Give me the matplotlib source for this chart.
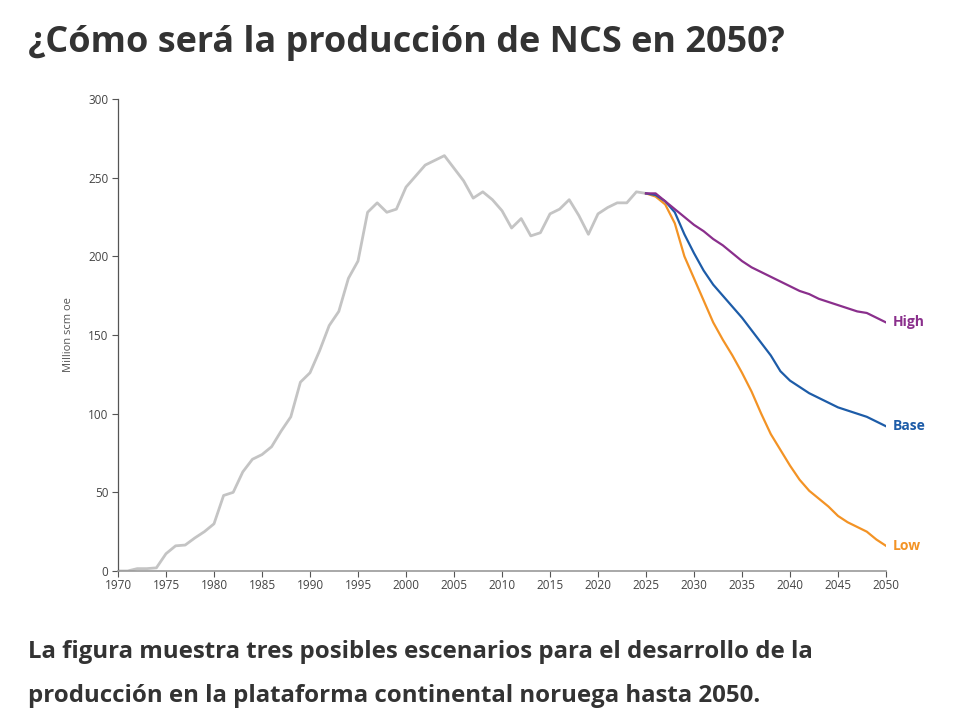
import matplotlib
matplotlib.use("Agg")
import matplotlib.pyplot as plt

years_hist = list(range(1970, 2026))
hist = [0, 0, 1.5, 1.5, 2, 11, 16, 16.5, 21, 25, 30, 48, 50, 63, 71, 74, 79, 89, 98, 120,
        126, 140, 156, 165, 186, 197, 228, 234, 228, 230, 244, 251, 258, 261, 264, 256,
        248, 237, 241, 236, 229, 218, 224, 213, 215, 227, 230, 236, 226, 214, 227, 231,
        234, 234, 241, 240]

years_proj = list(range(2025, 2051))
high = [240, 240, 235, 230, 225, 220, 216, 211, 207, 202, 197, 193, 190, 187, 184, 181,
        178, 176, 173, 171, 169, 167, 165, 164, 161, 158]
base = [240, 239, 235, 228, 214, 202, 191, 182, 175, 168, 161, 153, 145, 137, 127, 121,
        117, 113, 110, 107, 104, 102, 100, 98, 95, 92]
low = [240, 238, 233, 221, 200, 186, 172, 158, 147, 137, 126, 114, 100, 87, 77, 67,
       58, 51, 46, 41, 35, 31, 28, 25, 20, 16]

scenario_names = ["Low", "Base", "High"]
scenario_colors = ["#f39325", "#1d5ca8", "#8a2f8c"]

x_ticks = list(range(1970, 2051, 5))
y_ticks = list(range(0, 301, 50))

title = "¿Cómo será la producción de NCS en 2050?"
caption1 = "La figura muestra tres posibles escenarios para el desarrollo de la"
caption2 = "producción en la plataforma continental noruega hasta 2050."

plt.rcParams['font.family'] = ['Open Sans', 'DejaVu Sans']

fig = plt.figure(figsize=(9.56, 7.26), dpi=100)
ax = fig.add_axes([118/956, 1-571/726, (886-118)/956, (571-99)/726])

ax.plot(years_hist, hist, color="#c4c4c4", lw=2.0, solid_joinstyle="round",
        solid_capstyle="round", zorder=2)
for name, vals, col in zip(scenario_names, [low, base, high], scenario_colors):
    ax.plot(years_proj, vals, color=col, lw=1.6, solid_joinstyle="round", zorder=3)
    ax.text(years_proj[-1] + 0.75, vals[-1], name, color=col, fontsize=10,
            fontweight="bold", va="center", ha="left")

ax.set_xlim(1970, 2050)
ax.set_ylim(0, 300)
ax.set_xticks(x_ticks)
ax.set_yticks(y_ticks)
ax.tick_params(axis="both", labelsize=8.5, colors="#555555", length=4, width=0.8)
ax.tick_params(axis="x", pad=2)
ax.tick_params(axis="y", pad=3)
for lab in ax.get_xticklabels() + ax.get_yticklabels():
    lab.set_color("#444444")
ax.spines["top"].set_visible(False)
ax.spines["right"].set_visible(False)
ax.spines["left"].set_color("#555555")
ax.spines["bottom"].set_color("#999999")
ax.spines["left"].set_linewidth(0.9)
ax.spines["bottom"].set_linewidth(1.2)
ax.set_ylabel("Million scm oe", fontsize=8, color="#555555", labelpad=10)
ax.patch.set_alpha(0)

fig.text(28/956, 1-52/726, title, fontsize=25.9,
         fontweight="bold", color="#333333", ha="left", va="baseline")
fig.text(28/956, 1-658/726, caption1, fontsize=17.3,
         fontweight="bold", color="#333333", ha="left", va="baseline")
fig.text(28/956, 1-702/726, caption2, fontsize=17.3,
         fontweight="bold", color="#333333", ha="left", va="baseline")

fig.savefig("out.png", dpi=100, facecolor="white")
